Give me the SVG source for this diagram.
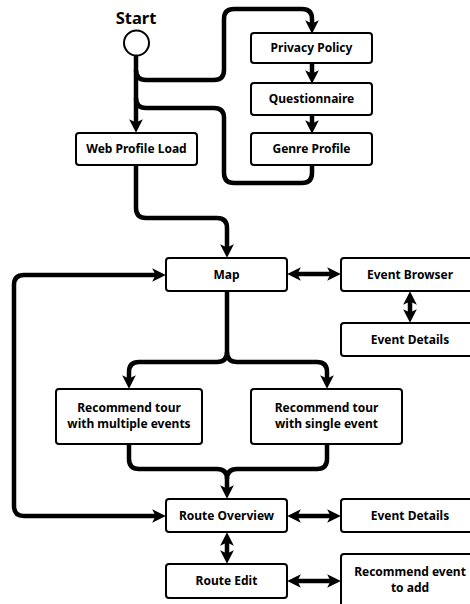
<svg xmlns="http://www.w3.org/2000/svg" width="470" height="604" viewBox="0 0 470 604">
<style>
.box{fill:#fff;stroke:#000;stroke-width:2}
.t{font-family:"Noto Sans","Open Sans",sans-serif;font-weight:bold;font-size:12px;text-anchor:middle;fill:#000}
.c{fill:none;stroke:#000;stroke-width:4.5}
.a{marker-end:url(#ah)}
.d{marker-end:url(#ah);marker-start:url(#ah)}
</style>
<defs>
<marker id="ah" markerUnits="userSpaceOnUse" markerWidth="16" markerHeight="16" viewBox="0 0 14 14" refX="7" refY="7" orient="auto-start-reverse">
<path d="M1,1 L13,7 L1,13 L4,7 Z" fill="#000"/>
</marker>
</defs>
<g id="connectors">
<path class="c a" d="M136,56 V126"/>
<path class="c a" d="M136,70 Q136,80 146,80 H214 Q224,80 224,70 V19 Q224,9 234,9 H302 Q312,9 312,19 V27"/>
<path class="c a" d="M312,64 V77"/>
<path class="c a" d="M312,115 V127"/>
<path class="c" d="M136,98 Q136,108 146,108 H214 Q224,108 224,118 V173 Q224,183 234,183 H302 Q312,183 312,173 V166"/>
<path class="c a" d="M136,166 V208 Q136,218 146,218 H217 Q227,218 227,228 V251"/>
<path class="c d" d="M294,274 H334"/>
<path class="c d" d="M410,298 V316"/>
<path class="c a" d="M227,291 V352 Q227,362 217,362 H139 Q129,362 129,372 V382"/>
<path class="c a" d="M227,352 Q227,362 237,362 H317 Q327,362 327,372 V382"/>
<path class="c" d="M129,444 V459 Q129,469 139,469 H217 Q227,469 227,479"/>
<path class="c a" d="M327,444 V459 Q327,469 317,469 H237 Q227,469 227,479 V492"/>
<path class="c d" d="M159,516 H24 Q14,516 14,506 V285 Q14,275 24,275 H159"/>
<path class="c d" d="M294,516 H334"/>
<path class="c d" d="M227,539 V557"/>
<path class="c d" d="M294,581 H334"/>
</g>
<g id="start">
<text x="136" y="24" class="t" style="font-size:16.5px">Start</text>
<circle cx="136.5" cy="43" r="12.5" fill="#fff" stroke="#000" stroke-width="2"/>
</g>
<g id="privacy"><rect class="box" x="251" y="33" width="121" height="30" rx="3"/><text class="t" x="311.5" y="52">Privacy Policy</text></g>
<g id="questionnaire"><rect class="box" x="251" y="83" width="121" height="32" rx="3"/><text class="t" x="311.5" y="103">Questionnaire</text></g>
<g id="genre"><rect class="box" x="251" y="133" width="121" height="32" rx="3"/><text class="t" x="311.5" y="153">Genre Profile</text></g>
<g id="webprofile"><rect class="box" x="76" y="133" width="121" height="32" rx="3"/><text class="t" x="136.5" y="153">Web Profile Load</text></g>
<g id="map"><rect class="box" x="166" y="258" width="121" height="33" rx="3"/><text class="t" x="226.5" y="279">Map</text></g>
<g id="eventbrowser"><rect class="box" x="341" y="258" width="138" height="33" rx="3"/><text class="t" x="410" y="279">Event Browser</text></g>
<g id="eventdetails1"><rect class="box" x="341" y="323" width="138" height="33" rx="3"/><text class="t" x="410" y="344">Event Details</text></g>
<g id="multi"><rect class="box" x="56" y="389" width="146" height="55" rx="3"/><text class="t" x="129" y="412">Recommend tour</text><text class="t" x="129" y="428">with multiple events</text></g>
<g id="single"><rect class="box" x="251" y="389" width="151" height="55" rx="3"/><text class="t" x="326.5" y="412">Recommend tour</text><text class="t" x="326.5" y="428">with single event</text></g>
<g id="routeoverview"><rect class="box" x="166" y="499" width="121" height="33" rx="3"/><text class="t" x="226.5" y="520">Route Overview</text></g>
<g id="eventdetails2"><rect class="box" x="341" y="499" width="138" height="33" rx="3"/><text class="t" x="410" y="520">Event Details</text></g>
<g id="routeedit"><rect class="box" x="166" y="564" width="121" height="34" rx="3"/><text class="t" x="226.5" y="585">Route Edit</text></g>
<g id="recommendevent"><rect class="box" x="341" y="554" width="138" height="60" rx="3"/><text class="t" x="410" y="576">Recommend event</text><text class="t" x="410" y="592">to add</text></g>
</svg>
